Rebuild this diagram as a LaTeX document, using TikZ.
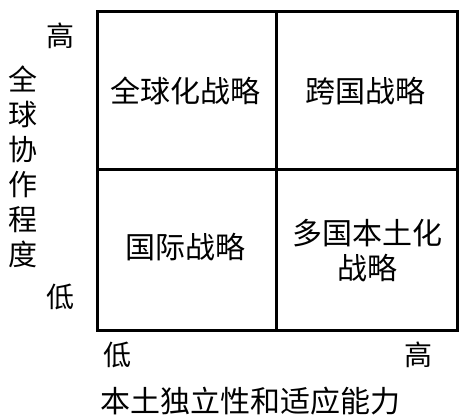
\documentclass[tikz,border=0pt]{standalone}
\usepackage{fontspec}
\setmainfont{Noto Sans CJK SC}
\begin{document}
\begin{tikzpicture}[x=1pt,y=-1pt,
    quad/.style={font=\fontsize{30}{35}\selectfont,align=center,inner sep=0pt},
    tick/.style={font=\fontsize{28}{30}\selectfont,inner sep=0pt}]
    \useasboundingbox (0,0) rectangle (462,418);
    \draw[line width=3pt] (97,11) rectangle (457,330);
    \draw[line width=3pt] (276,11) -- (276,330) (97,169) -- (457,169);
    \node[quad] (global) at (185,91) {全球化战略};
    \node[quad] (trans) at (365,91) {跨国战略};
    \node[quad] (intl) at (185,247) {国际战略};
    \node[quad] (multi) at (367,251) {多国本土化\\战略};
    \node[tick] (yhigh) at (60,36) {高};
    \node[tick] (ylow) at (60,297) {低};
    \node[tick] (xlow) at (117,355) {低};
    \node[tick] (xhigh) at (418,355) {高};
    \node[font=\fontsize{29}{35}\selectfont,align=center,inner sep=0pt]
    (ylabel) at (23,167) {全\\球\\协\\作\\程\\度};
    \node[font=\fontsize{30}{35}\selectfont,inner sep=0pt] (xlabel) at (250,401)
    {本土独立性和适应能力};
  \end{tikzpicture}
\end{document}
